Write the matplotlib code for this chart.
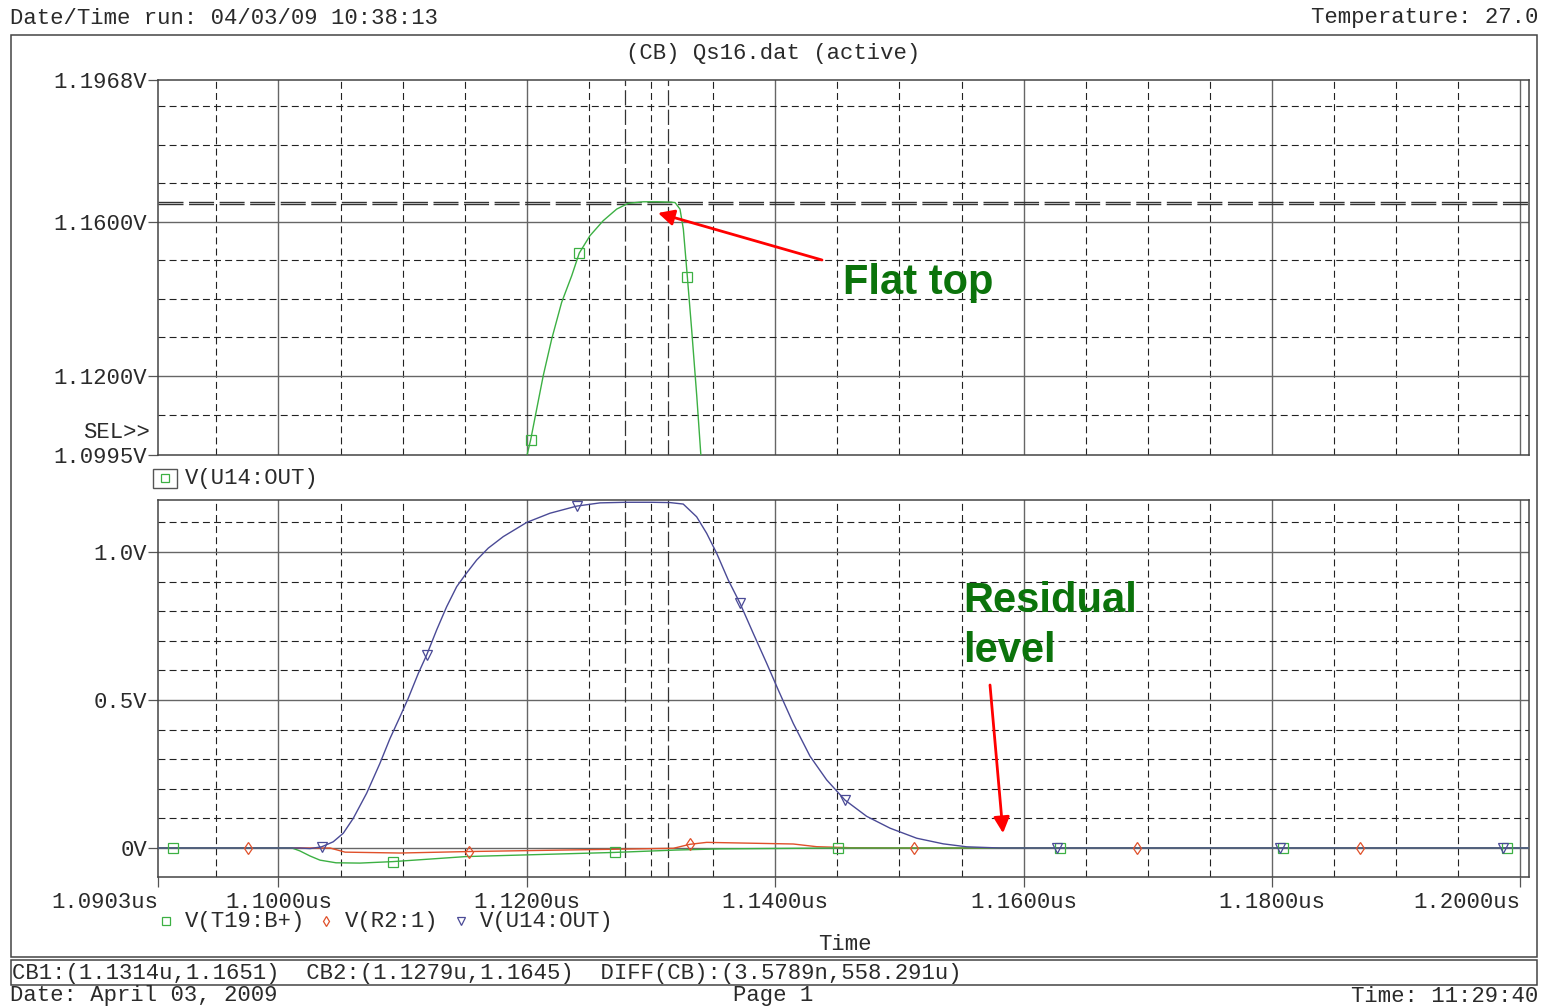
import matplotlib
matplotlib.use('Agg')
from matplotlib import pyplot as plt
from matplotlib.patches import Rectangle
from matplotlib.lines import Line2D

plt.rcParams['font.family'] = ['Liberation Mono', 'DejaVu Sans Mono']
plt.rcParams['lines.scale_dashes'] = False

W, H = 1547, 1006

# top panel: V(U14:OUT) zoomed
top_t = [1.11998, 1.12031, 1.12079, 1.12132, 1.12200, 1.12280, 1.12361, 1.12422,
         1.12508, 1.12615, 1.12723, 1.12816, 1.12937, 1.13050, 1.13160, 1.13193,
         1.13233, 1.13260, 1.13292, 1.13327, 1.13368, 1.13402]
top_v = [1.0990, 1.1035, 1.1114, 1.1201, 1.1296, 1.1391, 1.1460, 1.1519,
         1.1564, 1.1603, 1.1633, 1.1648, 1.1652, 1.1652, 1.1651, 1.1650,
         1.1633, 1.1581, 1.1458, 1.1320, 1.1148, 1.0990]
top_mark_t = [1.12031, 1.12422, 1.13292]
top_mark_v = [1.1035, 1.1519, 1.1458]

# bottom panel traces
u14_t = [1.0903, 1.10173, 1.10254, 1.10348, 1.10441, 1.10522, 1.10602, 1.10710,
         1.10817, 1.10898, 1.10978, 1.11045, 1.11126, 1.11193, 1.11274, 1.11354,
         1.11435, 1.11502, 1.11596, 1.11689, 1.11810, 1.11999, 1.12186, 1.12401,
         1.12589, 1.12800, 1.13000, 1.13152, 1.13259, 1.13367, 1.13448, 1.13528,
         1.13622, 1.13716, 1.13823, 1.13931, 1.14024, 1.14145, 1.14280, 1.14414,
         1.14561, 1.14736, 1.14924, 1.15139, 1.15353, 1.15541, 1.15810, 1.20069]
u14_v = [0.0, 0.0, -0.002, 0.004, 0.021, 0.050, 0.100, 0.185,
         0.286, 0.370, 0.443, 0.506, 0.590, 0.652, 0.737, 0.815,
         0.883, 0.922, 0.973, 1.013, 1.052, 1.100, 1.131, 1.155,
         1.166, 1.168, 1.168, 1.167, 1.162, 1.119, 1.063, 0.996,
         0.905, 0.827, 0.725, 0.624, 0.534, 0.421, 0.310, 0.230,
         0.162, 0.107, 0.067, 0.033, 0.014, 0.004, 0.0, 0.0]
u14_mark_t = [1.10348, 1.11193, 1.12401, 1.13716, 1.14561, 1.16268, 1.18064, 1.19859]
u14_mark_v = [0.004, 0.652, 1.155, 0.827, 0.162, 0.0, 0.0, 0.0]

t19_t = [1.0903, 1.10109, 1.10173, 1.10254, 1.10334, 1.10463, 1.10656, 1.10922,
         1.11510, 1.12106, 1.12706, 1.13198, 1.13555, 1.14505, 1.20069]
t19_v = [0.0, 0.0, -0.010, -0.027, -0.041, -0.050, -0.051, -0.046,
         -0.029, -0.022, -0.015, -0.007, -0.003, 0.0, 0.0]
t19_mark_t = [1.09151, 1.10922, 1.12709, 1.14505, 1.16293, 1.18088, 1.19891]
t19_mark_v = [0.0, -0.046, -0.015, 0.0, 0.0, 0.0, 0.0]

r2_t = [1.0903, 1.10415, 1.10536, 1.10978, 1.11534, 1.12589, 1.13180, 1.13313,
        1.13448, 1.14145, 1.14333, 1.14600, 1.15004, 1.20069]
r2_v = [0.0, 0.0, -0.014, -0.017, -0.012, -0.005, -0.001, 0.0125,
        0.019, 0.0135, 0.0044, 0.001, 0.0, 0.0]
r2_mark_t = [1.09755, 1.11534, 1.13313, 1.15117, 1.16912, 1.18708]
r2_mark_v = [0.0, -0.012, 0.0125, 0.0, 0.0, 0.0]

x_ticks = [1.0903, 1.10, 1.12, 1.14, 1.16, 1.18, 1.20]
x_labels = ['1.0903us', '1.1000us', '1.1200us', '1.1400us', '1.1600us', '1.1800us', '1.2000us']
x_major = [1.10, 1.12, 1.14, 1.16, 1.18, 1.20]
x_minor = [1.095, 1.105, 1.11, 1.115, 1.125, 1.13, 1.135, 1.145, 1.15, 1.155,
           1.165, 1.17, 1.175, 1.185, 1.19, 1.195]
top_yticks = [1.0995, 1.12, 1.16, 1.1968]
top_ylabels = ['1.0995V', '1.1200V', '1.1600V', '1.1968V']
top_major = [1.12, 1.16]
top_minor = [1.11, 1.13, 1.14, 1.15, 1.17, 1.18, 1.19]
bot_yticks = [0.0, 0.5, 1.0]
bot_ylabels = ['0V', '0.5V', '1.0V']
bot_minor = [0.1, 0.2, 0.3, 0.4, 0.6, 0.7, 0.8, 0.9, 1.1]
cursor_t = [1.1314, 1.1279]
cursor_v = [1.1651, 1.1645]

GREEN = '#3cb043'
RED = '#e0502a'
BLUE = '#4a4a96'
TXT = '#2a2a2a'
FS = 16

fig = plt.figure(figsize=(W / 100, H / 100), dpi=100)


def fx(x):
    return x / W


def fy(y):
    return 1 - y / H


ax1 = fig.add_axes([fx(158), fy(455), (1529 - 158) / W, 375 / H])
ax2 = fig.add_axes([fx(158), fy(877), (1529 - 158) / W, 377 / H])


def draw_grid(ax, ymajor, yminor):
    for t in x_minor:
        ax.axvline(t, color='#222222', lw=0.8, dashes=(5, 3), zorder=1)
    for t in x_major:
        ax.axvline(t, color='#666666', lw=1.0, zorder=1)
    for v in yminor:
        ax.axhline(v, color='#222222', lw=0.8, dashes=(5, 3), zorder=1)
    for v in ymajor:
        ax.axhline(v, color='#666666', lw=1.0, zorder=1)
    for t in cursor_t:
        ax.axvline(t, color='#333333', lw=0.9, dashes=(11, 3), zorder=1)
    for s in ax.spines.values():
        s.set_color('#444444')
        s.set_linewidth(1.1)
    ax.set_xlim(1.0903, 1.20069)
    ax.tick_params(axis='both', direction='out', length=7, width=0.9,
                   color='#555555', labelsize=FS, labelcolor=TXT, pad=1)


draw_grid(ax1, top_major, top_minor)
for v in cursor_v:
    ax1.axhline(v, color='#333333', lw=1.0, dashes=(18, 4), zorder=1)
ax1.plot(top_t, top_v, color=GREEN, lw=1.0, zorder=3)
ax1.plot(top_mark_t, top_mark_v, ls='none', marker='s', ms=6.5, mfc='none',
         mec=GREEN, mew=0.9, zorder=4)
ax1.set_ylim(1.0995, 1.1968)
ax1.set_yticks(top_yticks)
ax1.set_yticklabels(top_ylabels)
ax1.set_xticks([])

draw_grid(ax2, [0.0, 0.5, 1.0], bot_minor)
ax2.plot(r2_t, r2_v, color=RED, lw=1.0, zorder=3)
ax2.plot(t19_t, t19_v, color=GREEN, lw=1.0, zorder=3)
ax2.plot(u14_t, u14_v, color=BLUE, lw=1.0, zorder=3)
ax2.plot(t19_mark_t, t19_mark_v, ls='none', marker='s', ms=6.5, mfc='none',
         mec=GREEN, mew=0.9, zorder=4)
ax2.plot(r2_mark_t, r2_mark_v, ls='none', marker='d', ms=6, mfc='none',
         mec=RED, mew=0.9, zorder=4)
ax2.plot(u14_mark_t, u14_mark_v, ls='none', marker='v', ms=6.5, mfc='none',
         mec=BLUE, mew=0.9, zorder=4)
ax2.set_ylim(-0.098, 1.1757)
ax2.set_yticks(bot_yticks)
ax2.set_yticklabels(bot_ylabels)
ax2.set_xticks(x_ticks)
ax2.set_xticklabels(x_labels)
ax2.tick_params(axis='x', pad=4)
labs = ax2.get_xticklabels()
labs[0].set_ha('right')
labs[-1].set_ha('right')

# annotations
ax1.annotate('', xy=(1.13056, 1.1623), xycoords='data',
             xytext=(822, H - 260), textcoords='figure pixels',
             arrowprops=dict(arrowstyle='-|>', color='red', lw=2,
                             mutation_scale=24, shrinkA=0, shrinkB=0), zorder=6)
ax2.annotate('', xy=(1.15834, 0.05), xycoords='data',
             xytext=(990, H - 685), textcoords='figure pixels',
             arrowprops=dict(arrowstyle='-|>', color='red', lw=2,
                             mutation_scale=24, shrinkA=0, shrinkB=0), zorder=6)
note = dict(fontsize=30, fontweight='bold', family='Liberation Sans',
            color='#0b730b', va='center')
fig.text(fx(843), fy(283), 'Flat top', **note)
fig.text(fx(963), fy(601), 'Residual', **note)
fig.text(fx(963), fy(651), 'level', **note)

# frames
fig.add_artist(Rectangle((fx(11), fy(957)), (1537 - 11) / W, (957 - 35) / H,
                         transform=fig.transFigure, fill=False, ec='#444444', lw=1.1))
fig.add_artist(Rectangle((fx(11), fy(985)), (1537 - 11) / W, 25 / H,
                         transform=fig.transFigure, fill=False, ec='#444444', lw=1.1))
fig.add_artist(Rectangle((fx(153), fy(488)), 24 / W, 19 / H,
                         transform=fig.transFigure, fill=False, ec='#555555', lw=1.0))

# header / footer texts
tx = dict(fontsize=FS, color=TXT, va='center')
fig.text(fx(10), fy(18), 'Date/Time run: 04/03/09 10:38:13', **tx)
fig.text(fx(1538), fy(18), 'Temperature: 27.0', ha='right', **tx)
fig.text(fx(773), fy(53), '(CB) Qs16.dat (active)', ha='center', **tx)
fig.text(fx(150), fy(433), 'SEL>>', ha='right', **tx)
fig.text(fx(185), fy(479), 'V(U14:OUT)', **tx)
fig.text(fx(185), fy(922), 'V(T19:B+)', **tx)
fig.text(fx(345), fy(922), 'V(R2:1)', **tx)
fig.text(fx(480), fy(922), 'V(U14:OUT)', **tx)
fig.text(fx(845), fy(945), 'Time', ha='center', **tx)
fig.text(fx(12), fy(973), 'CB1:(1.1314u,1.1651)  CB2:(1.1279u,1.1645)  DIFF(CB):(3.5789n,558.291u)', **tx)
fig.text(fx(10), fy(996), 'Date: April 03, 2009', **tx)
fig.text(fx(773), fy(996), 'Page 1', ha='center', **tx)
fig.text(fx(1538), fy(996), 'Time: 11:29:40', ha='right', **tx)

# legend markers
for x, y, m, c in [(165, 478, 's', GREEN), (166, 921, 's', GREEN),
                   (326, 921, 'd', RED), (461, 921, 'v', BLUE)]:
    fig.add_artist(Line2D([fx(x)], [fy(y)], transform=fig.transFigure, ls='none',
                          marker=m, ms=5.5, mfc='none', mec=c, mew=0.9))

fig.savefig('out.png', dpi=100)
